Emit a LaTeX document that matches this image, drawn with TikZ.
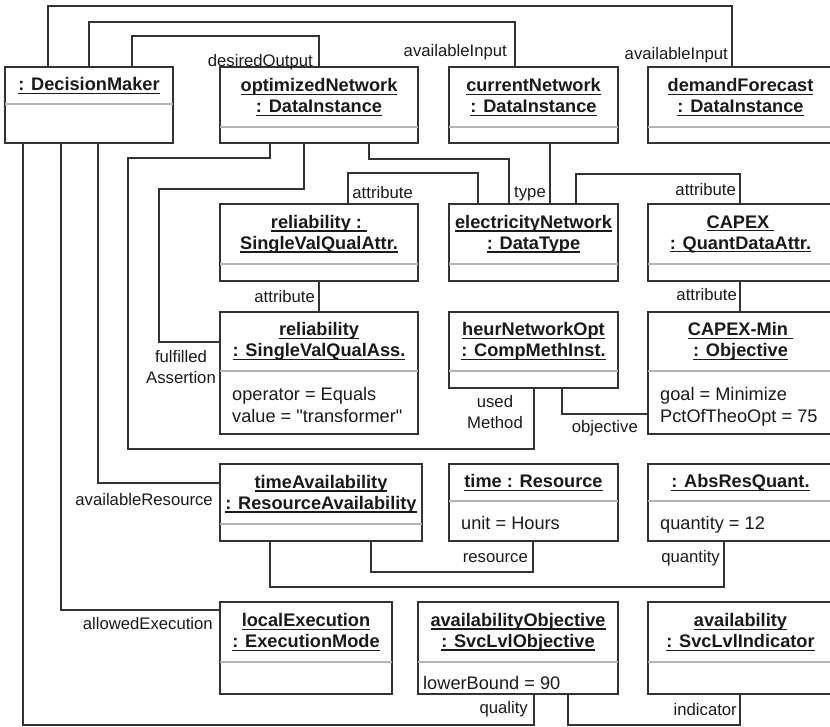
\documentclass[tikz,border=0pt]{standalone}
\usepackage{fontspec}
\setmainfont{Liberation Sans}
\newfontfamily\attrfont{Liberation Sans}

\definecolor{boxc}{HTML}{333333}
\definecolor{sepc}{HTML}{B4B4B4}
\definecolor{txtc}{HTML}{1A1A1A}

% underlined object name, line crossing descenders
\newcommand{\objname}[1]{\setbox0\hbox{#1}\rlap{\rule[-3.4pt]{\wd0}{1.2pt}}\box0}

\tikzset{
	obj/.style={draw=boxc, line width=1.3, anchor=north west, inner sep=0, outer sep=0},
	ttl/.style={font=\fontsize{18.2}{21}\selectfont\bfseries, text=txtc, align=center, inner sep=0},
	attr/.style={font=\attrfont\fontsize{18.2}{22}\selectfont, text=txtc, align=left, inner sep=0, anchor=north west},
	lbl/.style={font=\fontsize{16.7}{20.5}\selectfont, text=txtc, inner sep=0, anchor=base east},
	sepline/.style={draw=sepc, line width=1.6},
	link/.style={draw=boxc, line width=1.3}
}

\begin{document}
\begin{tikzpicture}[x=1pt,y=-1pt]
	\useasboundingbox (0,0) rectangle (830,726);
	
	% first row
	\node[obj, minimum width=168, minimum height=76] (dm) at (5,67) {};
	\draw[sepline] ([yshift=-37]dm.north west) -- ([yshift=-37]dm.north east);
	\node[ttl] (dmT) at ([yshift=-18.5]dm.north) {\objname{: DecisionMaker}};
	
	\node[obj, minimum width=198, minimum height=76] (opt) at (220,67) {};
	\draw[sepline] ([yshift=-60]opt.north west) -- ([yshift=-60]opt.north east);
	\node[ttl] (optT) at ([yshift=-30]opt.north) {\objname{optimizedNetwork}\\\objname{: DataInstance}};
	
	\node[obj, minimum width=169, minimum height=76] (cur) at (449,67) {};
	\draw[sepline] ([yshift=-60]cur.north west) -- ([yshift=-60]cur.north east);
	\node[ttl] (curT) at ([yshift=-30]cur.north) {\objname{currentNetwork}\\\objname{: DataInstance}};
	
	\node[obj, minimum width=185, minimum height=76] (dem) at (648,67) {};
	\draw[sepline] ([yshift=-60]dem.north west) -- ([yshift=-60]dem.north east);
	\node[ttl] (demT) at ([yshift=-30]dem.north) {\objname{demandForecast}\\\objname{: DataInstance}};
	
	% second row
	\node[obj, minimum width=198, minimum height=77] (relattr) at (220,204) {};
	\draw[sepline] ([yshift=-60]relattr.north west) -- ([yshift=-60]relattr.north east);
	\node[ttl] (relattrT) at ([yshift=-30]relattr.north) {\objname{reliability :\ }\\\objname{SingleValQualAttr.}};
	
	\node[obj, minimum width=169, minimum height=77] (elec) at (449,204) {};
	\draw[sepline] ([yshift=-60]elec.north west) -- ([yshift=-60]elec.north east);
	\node[ttl] (elecT) at ([yshift=-30]elec.north) {\objname{electricityNetwork}\\\objname{: DataType}};
	
	\node[obj, minimum width=185, minimum height=77] (capex) at (648,204) {};
	\draw[sepline] ([yshift=-60]capex.north west) -- ([yshift=-60]capex.north east);
	\node[ttl] (capexT) at ([yshift=-30]capex.north) {\objname{CAPEX\ }\\\objname{: QuantDataAttr.}};
	
	% third row
	\node[obj, minimum width=198, minimum height=122] (relass) at (220,312) {};
	\draw[sepline] ([yshift=-59]relass.north west) -- ([yshift=-59]relass.north east);
	\node[ttl] (relassT) at ([yshift=-29.5]relass.north) {\objname{reliability}\\\objname{: SingleValQualAss.}};
	\node[attr] (relassA) at ([xshift=12,yshift=-75]relass.north west) {operator = Equals\\value = "transformer"};
	
	\node[obj, minimum width=169, minimum height=76] (heur) at (449,312) {};
	\draw[sepline] ([yshift=-59]heur.north west) -- ([yshift=-59]heur.north east);
	\node[ttl] (heurT) at ([yshift=-29.5]heur.north) {\objname{heurNetworkOpt}\\\objname{: CompMethInst.}};
	
	\node[obj, minimum width=185, minimum height=122] (capexmin) at (648,312) {};
	\draw[sepline] ([yshift=-59]capexmin.north west) -- ([yshift=-59]capexmin.north east);
	\node[ttl] (capexminT) at ([yshift=-29.5]capexmin.north) {\objname{CAPEX-Min\ }\\\objname{: Objective}};
	\node[attr] (capexminA) at ([xshift=12,yshift=-75]capexmin.north west) {goal = Minimize\\PctOfTheoOpt = 75};
	
	% fourth row
	\node[obj, minimum width=202, minimum height=77] (timeav) at (220,464) {};
	\draw[sepline] ([yshift=-60]timeav.north west) -- ([yshift=-60]timeav.north east);
	\node[ttl] (timeavT) at ([yshift=-30]timeav.north) {\objname{timeAvailability}\\\objname{: ResourceAvailability}};
	
	\node[obj, minimum width=169, minimum height=77] (time) at (449,464) {};
	\draw[sepline] ([yshift=-37]time.north west) -- ([yshift=-37]time.north east);
	\node[ttl] (timeT) at ([yshift=-18.5]time.north) {\objname{time : Resource}};
	\node[attr] (timeA) at ([xshift=12,yshift=-52]time.north west) {unit = Hours};
	
	\node[obj, minimum width=185, minimum height=77] (absq) at (648,464) {};
	\draw[sepline] ([yshift=-37]absq.north west) -- ([yshift=-37]absq.north east);
	\node[ttl] (absqT) at ([yshift=-18.5]absq.north) {\objname{: AbsResQuant.}};
	\node[attr] (absqA) at ([xshift=12,yshift=-52]absq.north west) {quantity = 12};
	
	% fifth row
	\node[obj, minimum width=172, minimum height=92] (localex) at (220,602) {};
	\draw[sepline] ([yshift=-60]localex.north west) -- ([yshift=-60]localex.north east);
	\node[ttl] (localexT) at ([yshift=-30]localex.north) {\objname{localExecution}\\\objname{: ExecutionMode}};
	
	\node[obj, minimum width=200, minimum height=92] (avobj) at (418,602) {};
	\draw[sepline] ([yshift=-60]avobj.north west) -- ([yshift=-60]avobj.north east);
	\node[ttl] (avobjT) at ([yshift=-30]avobj.north) {\objname{availabilityObjective}\\\objname{: SvcLvlObjective}};
	\node[attr] (avobjA) at ([xshift=5,yshift=-74]avobj.north west) {lowerBound = 90};
	
	\node[obj, minimum width=185, minimum height=92] (avind) at (648,602) {};
	\draw[sepline] ([yshift=-60]avind.north west) -- ([yshift=-60]avind.north east);
	\node[ttl] (avindT) at ([yshift=-30]avind.north) {\objname{availability}\\\objname{: SvcLvlIndicator}};
	
	% links over the top
	\draw[link] ([xshift=43]dm.north west) -- ++(0,-61) -| ([xshift=84]dem.north west);
	\draw[link] ([xshift=84]dm.north west) -- ++(0,-45) -| ([xshift=66]cur.north west);
	\draw[link] ([xshift=127]dm.north west) -- ++(0,-31) -| ([xshift=99]opt.north west);
	\node[lbl] (lDesired) at (313,66) {desiredOutput};
	\node[lbl] (lInputCur) at (507,56) {availableInput};
	\node[lbl] (lInputDem) at (728,59) {availableInput};
	
	% links from optimizedNetwork
	\draw[link] ([xshift=50]opt.south west) -- ++(0,15) -- ++(-142,0) -- ++(0,291) -| ([xshift=85]heur.south west);
	\draw[link] ([xshift=84]opt.south west) -- ++(0,46) -- ++(-145,0) |- ([yshift=-30]relass.north west);
	\draw[link] ([xshift=149]opt.south west) -- ++(0,16) -| ([xshift=60]elec.north west);
	\draw[link] ([xshift=101]cur.south west) -- ([xshift=101]elec.north west);
	\node[lbl] (lType) at (546,197) {type};
	\node[lbl, anchor=east, align=center] (lFulfilled) at (216,367) {fulfilled\\Assertion};
	\node[lbl, anchor=east, align=center] (lUsed) at (523,412) {used\\Method};
	
	% attribute links
	\draw[link] ([xshift=128]relattr.north west) -- ++(0,-31) -| ([xshift=29]elec.north west);
	\draw[link] ([xshift=127]elec.north west) -- ++(0,-30) -| ([xshift=92]capex.north west);
	\draw[link] ([xshift=99]relattr.south west) -- ([xshift=99]relass.north west);
	\draw[link] ([xshift=92]capex.south west) -- ([xshift=92]capexmin.north west);
	\node[lbl] (lAttrRel) at (413,198) {attribute};
	\node[lbl] (lAttrCap) at (736,195) {attribute};
	\node[lbl] (lAttrAss) at (315,302) {attribute};
	\node[lbl] (lAttrMin) at (737,300) {attribute};
	
	\draw[link] ([xshift=113]heur.south west) |- ([yshift=-102]capexmin.north west);
	\node[lbl] (lObjective) at (638,432) {objective};
	
	% resources
	\draw[link] ([xshift=93]dm.south west) |- ([yshift=-19]timeav.north west);
	\draw[link] ([xshift=151]timeav.south west) -- ++(0,31) -| ([xshift=84]time.south west);
	\draw[link] ([xshift=50]timeav.south west) -- ++(0,46) -| ([xshift=76]absq.south west);
	\node[lbl] (lResAv) at (213,505) {availableResource};
	\node[lbl] (lResource) at (528,562) {resource};
	\node[lbl] (lQuantity) at (720,562) {quantity};
	
	% execution and quality
	\draw[link] ([xshift=56]dm.south west) |- ([yshift=-8]localex.north west);
	\draw[link] ([xshift=18]dm.south west) -- ++(0,582) -| ([xshift=116]avobj.south west);
	\draw[link] ([xshift=150]avobj.south west) -- ++(0,31) -| ([xshift=92]avind.south west);
	\node[lbl] (lAllowed) at (213,629) {allowedExecution};
	\node[lbl] (lQuality) at (528,713) {quality};
	\node[lbl] (lIndicator) at (737,715) {indicator};
	
\end{tikzpicture}
\end{document}
